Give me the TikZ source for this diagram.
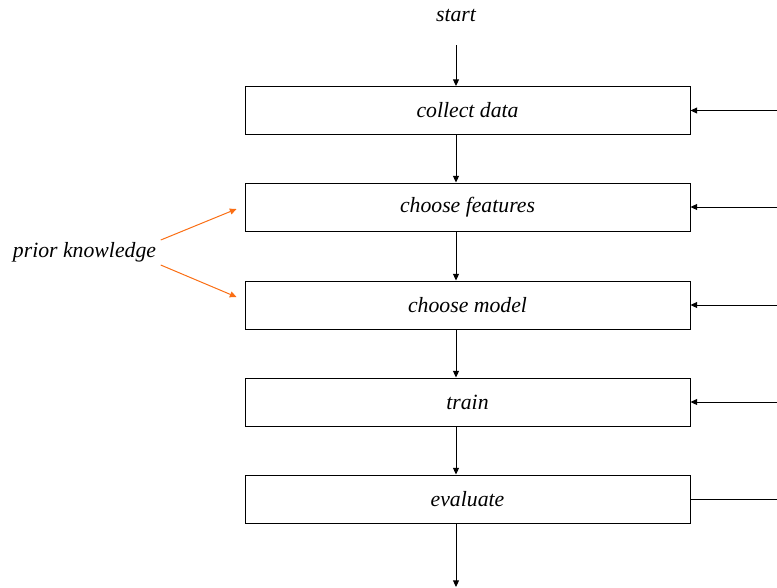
\documentclass[tikz,border=0pt]{standalone}
\usepackage{fontspec}
\setmainfont{Liberation Serif}
\usepackage{tikz}
\usetikzlibrary{arrows.meta,calc}
\definecolor{priorcol}{RGB}{250,110,20}
\newcommand{\lbl}{\fontsize{16.3}{19}\selectfont\itshape}

\begin{document}
\begin{tikzpicture}[x=0.75pt,y=-0.75pt,
		stage/.style={draw,line width=0.75pt,minimum width=333.75pt,minimum height=36pt,inner sep=0pt,font=\lbl},
		flow/.style={line width=0.75pt,-{Triangle[length=5pt,width=4.5pt]}},
		hint/.style={flow,draw=priorcol}]
			\useasboundingbox (0,0) rectangle (777,587);
			% the stages
			\node[font=\lbl] (start) at (456,15) {start};
			\node[stage] (collect) at (467.5,110.5) {collect data};
			\node[stage] (features) at (467.5,207) {choose features};
			\node[stage] (model) at (467.5,305) {choose model};
			\node[stage] (train) at (467.5,402) {train};
			\node[stage] (evaluate) at (467.5,499) {evaluate};
			\coordinate (top) at (456,45);
			\coordinate (bottom) at (456,587);
			% main flow
			\draw[flow] (top) -- (top |- collect.north);
			\draw[flow] (top |- collect.south) -- (top |- features.north);
			\draw[flow] (top |- features.south) -- (top |- model.north);
			\draw[flow] (top |- model.south) -- (top |- train.north);
			\draw[flow] (top |- train.south) -- (top |- evaluate.north);
			\draw[flow] (top |- evaluate.south) -- (bottom);
			% feedback from the right
			\foreach \s in {collect,features,model,train} {
				\coordinate (fb-\s) at (777,0 |- \s.east);
				\draw[flow] (fb-\s) -- (\s.east);
			}
			\coordinate (fb-evaluate) at (777,0 |- evaluate.east);
			\draw[line width=0.75pt] (evaluate.east) -- (fb-evaluate);
			% prior knowledge
			\node[font=\lbl] (prior) at (84.5,252) {prior knowledge};
			\draw[hint] ($(prior.east)+(0,-12)$) -- ($(features.west)+(-8,2)$);
			\draw[hint] ($(prior.east)+(0,13)$) -- ($(model.west)+(-8,-8)$);
		\end{tikzpicture}
\end{document}
